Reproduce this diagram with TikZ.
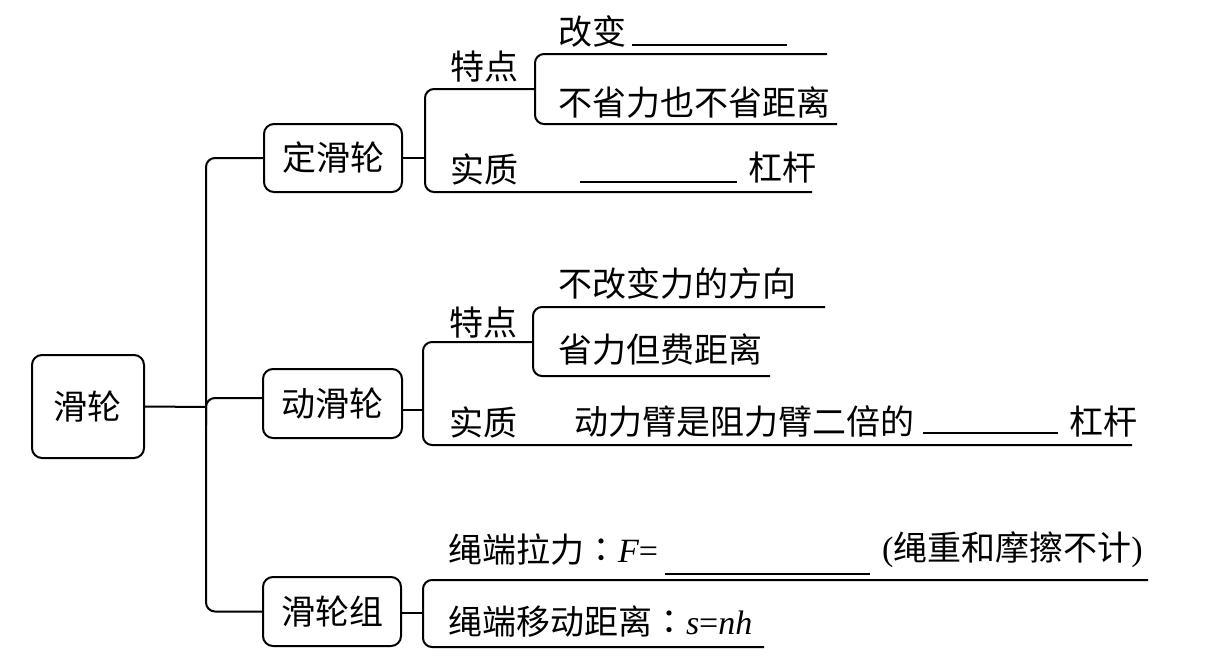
\documentclass[tikz,border=0pt]{standalone}
\usepackage{fontspec}
\setmainfont{Liberation Serif}
\newfontfamily\cjk{Noto Sans CJK SC}
\newfontfamily\cjktc{Noto Sans CJK TC}
\begin{document}
\begin{tikzpicture}[x=0.5pt,y=-0.5pt, line width=1pt,
  box/.style={draw, rounded corners=5pt, inner sep=0pt, font=\cjk\fontsize{17}{20}\selectfont},
  lbl/.style={anchor=west, inner sep=0pt, font=\cjk\fontsize{17}{20}\selectfont},
  rc/.style={rounded corners=4.5pt},
  blank/.style={line width=0.9pt}]
\useasboundingbox (0,0) rectangle (1212,664);

% boxes
\node[box, minimum width=56pt, minimum height=51.5pt] (root) at (88,406.5) {滑轮};
\node[box, minimum width=69pt, minimum height=34pt] (fixed) at (333,158) {定滑轮};
\node[box, minimum width=69.5pt, minimum height=34.5pt] (movable) at (332.5,403.5) {动滑轮};
\node[box, minimum width=69pt, minimum height=34.5pt] (group) at (332,611.5) {滑轮组};

% trunk
\coordinate (T) at (206,407);
\coordinate (Tm) at (206,425);
\draw (root.east) -- (T);
\draw[rc] (fixed.west) -| (T) |- (group.west);
\draw[rc] ([yshift=2.75pt]movable.west) -| (Tm);

% fixed pulley
\coordinate (FS) at (425,158);
\coordinate (FA) at (535,89);
\coordinate (FB) at (812,192);
\coordinate (FA2) at (827,54);
\coordinate (FB2) at (837,124);
\draw (fixed.east) -- (FS);
\draw[rc] (FA) -| (FS) |- (FB);
\draw[rc] (FA2) -| (FA) |- (FB2);

\node[lbl] (ftd) at (449,67) {特点};
\node[lbl] (fgb) at (557,31) {改变};
\node[lbl] (fbs) at (557,103) {不省力也不省距离};
\node[lbl] (fsz) at (449,169) {实质};
\node[lbl] (fgg) at (747,168) {杠杆};
\coordinate (b1s) at (632,45); \coordinate (b1e) at (787,45);
\draw[blank] (b1s) -- (b1e);
\coordinate (b2s) at (580,182); \coordinate (b2e) at (737,182);
\draw[blank] (b2s) -- (b2e);

% movable pulley
\coordinate (MS) at (423,410);
\coordinate (MA) at (533,342);
\coordinate (MB) at (1132,445);
\coordinate (MA2) at (825,307);
\coordinate (MB2) at (770,376);
\draw (movable.east |- MS) -- (MS);
\draw[rc] (MA) -| (MS) |- (MB);
\draw[rc] (MA2) -| (MA) |- (MB2);

\node[lbl] (mtd) at (448,323) {特点};
\node[lbl] (mfx) at (557,283) {不改变力的方向};
\node[lbl] (msl) at (557,350) {省力但费距离};
\node[lbl] (msz) at (448,422) {实质};
\node[lbl] (mdl) at (573,422) {动力臂是阻力臂二倍的};
\node[lbl] (mgg) at (1068,422) {杠杆};
\coordinate (b3s) at (923,433); \coordinate (b3e) at (1058,433);
\draw[blank] (b3s) -- (b3e);

% pulley block
\coordinate (GS) at (423,613);
\coordinate (GA) at (1148,580);
\coordinate (GB) at (764,647);
\draw (group.east |- GS) -- (GS);
\draw[rc] (GA) -| (GS) |- (GB);

\node[lbl] (gf) at (447,550) {绳端拉力{\cjktc ：}{\rmfamily\itshape F}{\rmfamily =}};
\node[lbl] (gnote) at (881,550) {{\rmfamily (}绳重和摩擦不计{\rmfamily )}};
\node[lbl] (gs) at (447,622) {绳端移动距离{\cjktc ：}{\rmfamily\itshape s}{\rmfamily =}{\rmfamily\itshape nh}};
\coordinate (b4s) at (665,574); \coordinate (b4e) at (870,574);
\draw[blank] (b4s) -- (b4e);
\end{tikzpicture}
\end{document}
